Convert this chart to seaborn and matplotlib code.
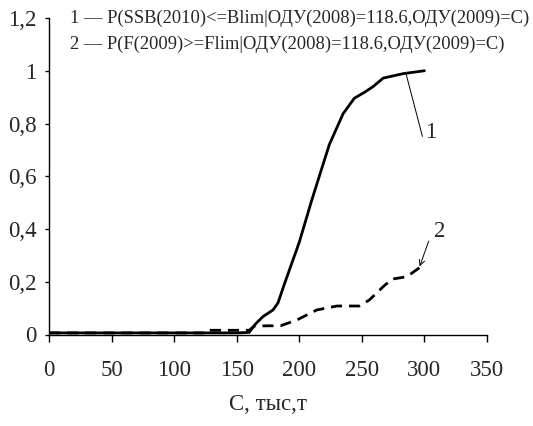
import matplotlib
matplotlib.use("Agg")
import matplotlib.pyplot as plt
import seaborn as sns
import pandas as pd

# Curve 1: P(SSB(2010)<=Blim | ...)
x1 = [0, 50, 100, 150, 160, 165, 171, 179, 183, 188, 194, 200, 205, 210, 215, 224, 235, 244, 252, 259, 267, 283, 300]
y1 = [0.006, 0.006, 0.006, 0.006, 0.008, 0.04, 0.068, 0.093, 0.12, 0.19, 0.27, 0.35, 0.43, 0.51, 0.585, 0.72, 0.837, 0.896, 0.918, 0.94, 0.972, 0.989, 1.0]
# Curve 2: P(F(2009)>=Flim | ...)
x2 = [0, 50, 100, 124, 125, 150, 160, 164, 175, 185, 198, 214, 230, 248, 256, 267, 274, 286, 298]
y2 = [0.006, 0.006, 0.006, 0.006, 0.016, 0.016, 0.016, 0.032, 0.033, 0.033, 0.055, 0.093, 0.108, 0.108, 0.131, 0.181, 0.21, 0.219, 0.26]

xticks = [0, 50, 100, 150, 200, 250, 300, 350]
yticks = [0, 0.2, 0.4, 0.6, 0.8, 1.0, 1.2]
ytick_labels = ["0", "0,2", "0,4", "0,6", "0,8", "1", "1,2"]
legend1 = "1 — Ρ(SSB(2010)<=Blim|ОДУ(2008)=118.6,ОДУ(2009)=С)"
legend2 = "2 — Ρ(F(2009)>=Flim|ОДУ(2008)=118.6,ОДУ(2009)=С)"
xlabel = "С, тыс,т"

sns.set_style("ticks")
plt.rcParams['font.family'] = ['Liberation Serif', 'DejaVu Serif']

fig = plt.figure(figsize=(5.33, 4.26), dpi=100)
ax = fig.add_axes([49/533, (426-334.5)/426, 438/533, 316.5/426])

df1 = pd.DataFrame({"x": x1, "y": y1})
df2 = pd.DataFrame({"x": x2, "y": y2})
sns.lineplot(data=df2, x="x", y="y", ax=ax, color="black", lw=2.0, linestyle=(0, (4, 2.5)))
sns.lineplot(data=df1, x="x", y="y", ax=ax, color="black", lw=2.0)

ax.set_xlim(0, 350)
ax.set_ylim(0, 1.2)
ax.set_xticks(xticks)
ax.set_xticklabels([str(t) for t in xticks], fontsize=16.5)
ax.set_yticks(yticks)
ax.set_yticklabels(ytick_labels, fontsize=16.5)
ax.tick_params(axis='x', direction='out', length=5, width=1.0, pad=13, color='black')
ax.tick_params(axis='y', direction='out', length=3, width=1.0, pad=6, color='black')
for s in ['top', 'right']:
    ax.spines[s].set_visible(False)
for s in ['left', 'bottom']:
    ax.spines[s].set_linewidth(1.0)
    ax.spines[s].set_color('black')
ax.set_xlabel(xlabel, fontsize=16.5, labelpad=10)
ax.set_ylabel("")

ax.text(0.048, 1.0, legend1, transform=ax.transAxes, fontsize=13.3, va='center', ha='left')
ax.text(0.048, 0.918, legend2, transform=ax.transAxes, fontsize=13.3, va='center', ha='left')

# curve labels
ax.plot([285.5, 298.4], [0.985, 0.751], color='black', lw=0.7)
ax.text(300.5, 0.765, "1", fontsize=16.5, ha='left', va='center')
ax.annotate("", xy=(296.2, 0.258), xytext=(303.4, 0.354),
            arrowprops=dict(arrowstyle='->', color='black', lw=0.7, shrinkA=0, shrinkB=0))
ax.text(312, 0.39, "2", fontsize=16.5, ha='center', va='center')

fig.savefig("out.png", dpi=100)
